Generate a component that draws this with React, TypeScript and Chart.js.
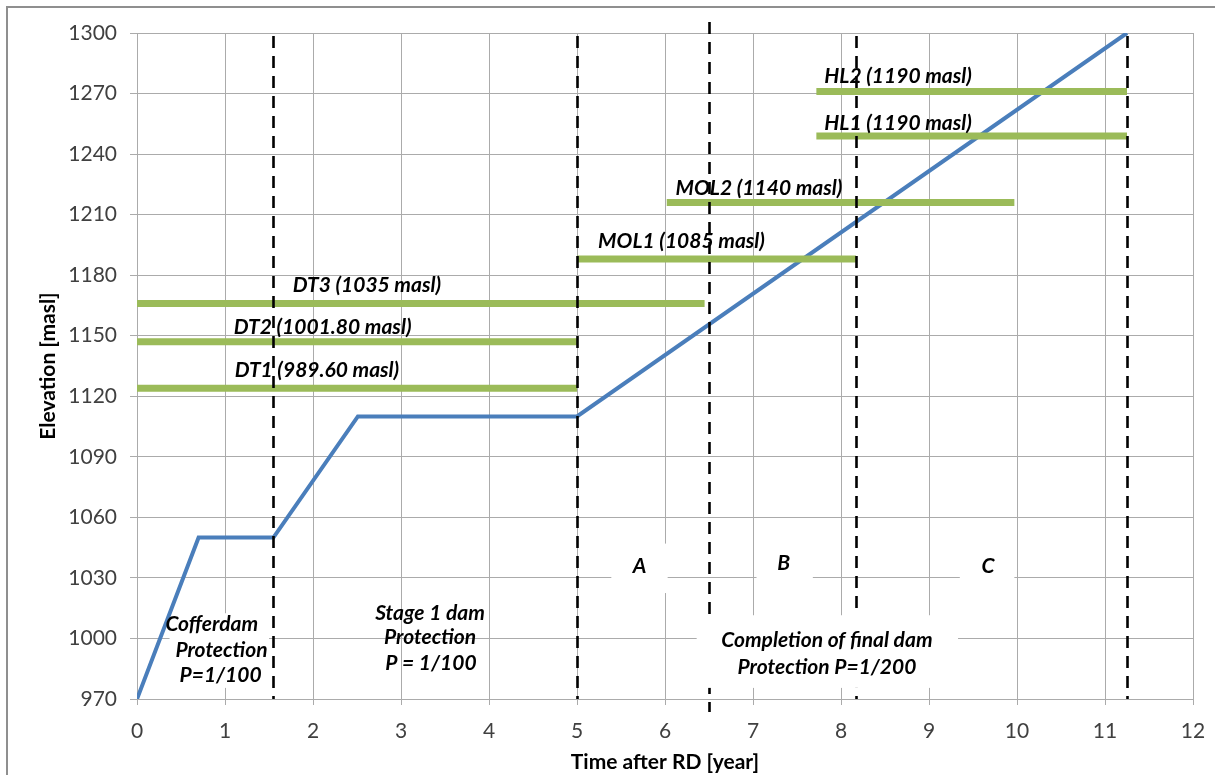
import { useEffect, useRef } from "react";
import { Chart, registerables } from "chart.js";

Chart.register(...registerables);

// ---- Data ----
const stageX = [0, 0.7, 1.55, 2.51, 5, 11.25];
const stageY = [970, 1050, 1050, 1110, 1110, 1300];

const levelNames = [
  "DT1 (989.60 masl)",
  "DT2 (1001.80 masl)",
  "DT3 (1035 masl)",
  "MOL1 (1085 masl)",
  "MOL2 (1140 masl)",
  "HL1 (1190 masl)",
  "HL2 (1190 masl)",
];
const levelElev = [1124, 1147, 1166, 1188, 1216, 1249, 1271];
const levelStart = [0, 0, 0, 5, 6.02, 7.72, 7.72];
const levelEnd = [5, 5, 6.45, 8.17, 9.97, 11.25, 11.25];

const phaseX = [1.55, 5, 6.5, 8.17, 11.25];

const yMin = 970;
const yMax = 1300;
const yStep = 30;
const xMin = 0;
const xMax = 12;
const xStep = 1;

// ---- Annotation placement (data coordinates) ----
const levelLabelX = [1.11, 1.1, 1.77, 5.24, 6.12, 7.81, 7.81];
const levelLabelY = [1133, 1154, 1175, 1197, 1223, 1255.5, 1278.5];

type Note = {
  lines: string[];
  xs: number[];
  ys: number[];
  box?: [number, number, number, number]; // x0,x1,yTop,yBottom
  under?: boolean;
};

const notes: Note[] = [
  { lines: ["A"], xs: [5.71], ys: [1036], box: [5.39, 6.03, 1047, 1022.5] },
  { lines: ["B"], xs: [7.35], ys: [1037.5], box: [7.04, 7.68, 1048.5, 1024] },
  { lines: ["C"], xs: [9.67], ys: [1036], box: [9.35, 9.97, 1047, 1024] },
  {
    lines: ["Completion of final dam", "Protection P=1/200"],
    xs: [7.84, 7.84],
    ys: [999, 985.6],
    box: [6.36, 9.33, 1011.5, 975.5],
  },
  {
    lines: ["Cofferdam", "Protection", "P=1/100"],
    xs: [0.85, 0.96, 0.95],
    ys: [1006.9, 994, 981.6],
    box: [0.37, 1.5, 1012.5, 975.5],
    under: true,
  },
  {
    lines: ["Stage 1 dam", "Protection", "P = 1/100"],
    xs: [3.33, 3.33, 3.34],
    ys: [1012.4, 1000.5, 987.6],
  },
];

const FONT = "Lato, 'Open Sans', 'DejaVu Sans', sans-serif";
const LABEL_FONT = `italic bold 21px ${FONT}`;
const GRID = "#ababab";

export default function App() {
  const ref = useRef<HTMLCanvasElement>(null);

  useEffect(() => {
    const canvas = ref.current;
    if (!canvas) return;

    const levelSets = levelNames.map((name, i) => ({
      label: name,
      data: [
        { x: levelStart[i], y: levelElev[i] },
        { x: levelEnd[i], y: levelElev[i] },
      ],
      showLine: true,
      borderColor: "#9bbb59",
      backgroundColor: "#9bbb59",
      borderWidth: 7,
      borderCapStyle: "butt" as const,
      pointRadius: 0,
    }));

    const stageSet = {
      label: "Stage",
      data: stageX.map((x, i) => ({ x, y: stageY[i] })),
      showLine: true,
      borderColor: "#4a7ebb",
      backgroundColor: "#4a7ebb",
      borderWidth: 4,
      pointRadius: 0,
      tension: 0,
    };

    const drawNoteBox = (chart: any, n: Note) => {
      if (!n.box) return;
      const { ctx, scales } = chart;
      const x0 = scales.x.getPixelForValue(n.box[0]);
      const x1 = scales.x.getPixelForValue(n.box[1]);
      const y0 = scales.y.getPixelForValue(n.box[2]);
      const y1 = scales.y.getPixelForValue(n.box[3]);
      ctx.save();
      ctx.fillStyle = "#ffffff";
      ctx.fillRect(x0, y0, x1 - x0, y1 - y0);
      ctx.restore();
    };

    const drawNoteText = (chart: any, n: Note) => {
      const { ctx, scales } = chart;
      ctx.save();
      ctx.font = LABEL_FONT;
      ctx.fillStyle = "#000";
      ctx.textAlign = "center";
      ctx.textBaseline = "middle";
      n.lines.forEach((line, i) => {
        ctx.fillText(
          line,
          scales.x.getPixelForValue(n.xs[i]),
          scales.y.getPixelForValue(n.ys[i])
        );
      });
      ctx.restore();
    };

    const annot = {
      id: "annot",
      beforeDraw(chart: any) {
        const { ctx } = chart;
        ctx.save();
        ctx.fillStyle = "#fff";
        ctx.fillRect(0, 0, chart.width, chart.height);
        ctx.strokeStyle = "#8f8f8f";
        ctx.lineWidth = 2;
        ctx.beginPath();
        ctx.moveTo(7, chart.height + 5);
        ctx.lineTo(7, 7);
        ctx.lineTo(chart.width + 5, 7);
        ctx.stroke();
        ctx.restore();
      },
      beforeDatasetsDraw(chart: any) {
        notes.filter((n) => n.under).forEach((n) => drawNoteBox(chart, n));
      },
      afterDatasetsDraw(chart: any) {
        const { ctx, scales, chartArea } = chart;
        // level labels
        ctx.save();
        ctx.font = LABEL_FONT;
        ctx.fillStyle = "#000";
        ctx.textAlign = "left";
        ctx.textBaseline = "middle";
        levelNames.forEach((name, i) => {
          ctx.fillText(
            name,
            scales.x.getPixelForValue(levelLabelX[i]),
            scales.y.getPixelForValue(levelLabelY[i])
          );
        });
        ctx.restore();

        // dashed phase lines
        ctx.save();
        ctx.strokeStyle = "#000";
        ctx.lineWidth = 2.6;
        ctx.setLineDash([12, 8]);
        phaseX.forEach((x, i) => {
          const px = Math.round(scales.x.getPixelForValue(x)) + 0.5;
          const long = i === 2;
          const top = long ? chartArea.top - 11 : chartArea.top + 3;
          const bottom = long ? chartArea.bottom + 13 : chartArea.bottom;
          ctx.beginPath();
          ctx.moveTo(px, top);
          ctx.lineTo(px, bottom);
          ctx.stroke();
        });
        ctx.restore();

        notes.filter((n) => !n.under).forEach((n) => drawNoteBox(chart, n));
        notes.forEach((n) => drawNoteText(chart, n));

        // axis titles
        ctx.save();
        ctx.font = `bold 21px ${FONT}`;
        ctx.fillStyle = "#000";
        ctx.textAlign = "center";
        ctx.textBaseline = "middle";
        ctx.fillText(
          "Time after RD [year]",
          (chartArea.left + chartArea.right) / 2,
          762
        );
        ctx.translate(48, (chartArea.top + chartArea.bottom) / 2);
        ctx.rotate(-Math.PI / 2);
        ctx.fillText("Elevation [masl]", 0, 0);
        ctx.restore();
      },
    };

    const chart = new Chart(canvas, {
      type: "scatter",
      data: { datasets: [...levelSets, stageSet] as any },
      options: {
        responsive: false,
        animation: false,
        layout: { padding: { left: 0, top: 33, right: 22, bottom: 0 } },
        plugins: {
          legend: { display: false },
          tooltip: { enabled: false },
        },
        scales: {
          x: {
            type: "linear",
            min: xMin,
            max: xMax,
            ticks: {
              stepSize: xStep,
              color: "#404040",
              font: { family: FONT, size: 21 },
              padding: 14,
              callback: (v: any) => String(v),
            },
            grid: { color: GRID, lineWidth: 1, tickLength: 6 },
            border: { color: GRID, width: 1 },
            afterFit: (s: any) => {
              s.height = 76;
              s.paddingLeft = 0;
              s.paddingRight = 0;
            },
          },
          y: {
            type: "linear",
            min: yMin,
            max: yMax,
            ticks: {
              stepSize: yStep,
              color: "#404040",
              font: { family: FONT, size: 21 },
              padding: 13,
              callback: (v: any) => String(v),
            },
            grid: { color: GRID, lineWidth: 1, tickLength: 7 },
            border: { color: GRID, width: 1 },
            afterFit: (s: any) => {
              s.width = 137;
              s.paddingTop = 0;
              s.paddingBottom = 0;
            },
          },
        },
      },
      plugins: [annot],
    });

    return () => chart.destroy();
  }, []);

  return (
    <div
      style={{
        position: "absolute",
        left: 0,
        top: 0,
        width: 1215,
        height: 775,
        background: "#fff",
      }}
    >
      <canvas
        ref={ref}
        width={1215}
        height={775}
        style={{ width: 1215, height: 775, display: "block" }}
      />
    </div>
  );
}
